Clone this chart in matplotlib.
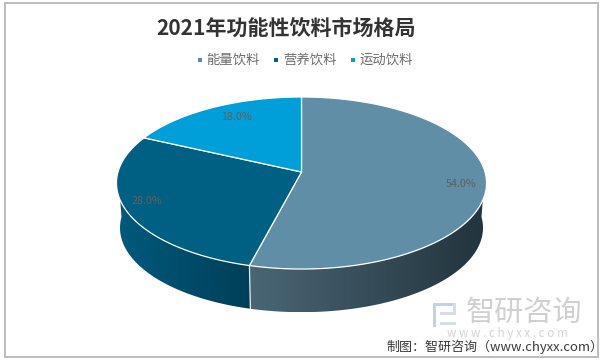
import matplotlib
matplotlib.use('Agg')
import matplotlib.pyplot as plt
from matplotlib.patches import Polygon, Rectangle
import numpy as np

plt.rcParams['font.family'] = ['Noto Sans CJK SC', 'DejaVu Sans']

title = '2021年功能性饮料市场格局'
names = ['能量饮料', '营养饮料', '运动饮料']
shares = [54.0, 28.0, 18.0]
colors = ['#5f8ea6', '#006083', '#009fd9']
side_left = ['#4a6675', '#005a7d', '#006083']
side_right = ['#22343d', '#003f58', '#006083']
source = '制图：智研咨询（www.chyxx.com）'

fig = plt.figure(figsize=(6.02, 3.62), dpi=100)
ax = fig.add_axes([0, 0, 1, 1])
ax.set_xlim(0, 602)
ax.set_ylim(362, 0)
ax.axis('off')


# tilted disc with a little perspective, theta clockwise from 12 o'clock
def project(theta, cy=172.0, a=183.5, b=84.6, c=0.128):
    u = np.sin(theta)
    v = np.cos(theta)
    return 301.5 + a * u / (1 + c * v), cy - b * v / (1 + c * v)


def bottom(theta):
    return project(theta, cy=217.0, a=180.0, b=83.0)


edges = np.cumsum([0] + shares) / 100 * 2 * np.pi

# sides, only the part that faces us
for i in range(2):
    t0 = max(edges[i], np.pi * 0.5)
    t1 = min(edges[i + 1], np.pi * 1.5)
    t = np.linspace(t0, t1, 120)
    xt, yt = project(t)
    xb, yb = bottom(t)
    pts = np.column_stack([np.r_[xt, xb[::-1]], np.r_[yt, yb[::-1]]])
    poly = Polygon(pts, closed=True, fc='none', ec='none')
    ax.add_patch(poly)
    c0 = np.array(matplotlib.colors.to_rgb(side_left[i]))[None, None, :]
    c1 = np.array(matplotlib.colors.to_rgb(side_right[i]))[None, None, :]
    grad = np.linspace(0, 1, 200)[None, :, None]
    img = c0 * (1 - grad) + c1 * grad
    im = ax.imshow(img, extent=[pts[:, 0].min(), pts[:, 0].max(), pts[:, 1].max(), pts[:, 1].min()],
                   aspect='auto', zorder=1)
    im.set_clip_path(poly)
ax.set_xlim(0, 602)
ax.set_ylim(362, 0)

# seam between the two visible sides
sx, sy = project(edges[1])
bx, by = bottom(edges[1])
ax.plot([sx, bx], [sy, by], color='#e8ecee', lw=0.9, zorder=2)

# top faces
for i in range(3):
    t = np.linspace(edges[i], edges[i + 1], 200)
    x, y = project(t)
    pts = np.column_stack([np.r_[301.5, x], np.r_[172.0, y]])
    ax.add_patch(Polygon(pts, closed=True, fc=colors[i], ec='white', lw=0.9,
                         joinstyle='round', zorder=3))

# percent labels
label_pos = [(461, 184), (147, 201), (236, 117)]
for v, (x, y) in zip(shares, label_pos):
    ax.text(x, y, '%.1f%%' % v, color='#606060', fontsize=7.8, ha='center', va='center', zorder=4)

ax.text(286.5, 28, title, color='#333333', fontsize=15.1, fontweight='bold', ha='center', va='center')

# legend
leg_x = [199.5, 276, 352.5]
for name, col, x in zip(names, colors, leg_x):
    ax.add_patch(Rectangle((x - 2, 58), 4, 4, fc=col, ec='none'))
    ax.text(x + 7, 60, name, color='#6b6b6b', fontsize=9.6, ha='left', va='center')

# watermark
logo = '#d5dde8'
ax.add_patch(Rectangle((433, 303), 22, 3, fc='#c3d3e6', ec='none'))
ax.add_patch(Rectangle((433, 303), 3, 24, fc='#c3d3e6', ec='none'))
ax.add_patch(Rectangle((440, 312), 16, 3, fc=logo, ec='none'))
ax.add_patch(Rectangle((440, 322), 16, 3, fc=logo, ec='none'))
ax.add_patch(Rectangle((453, 303), 3, 12, fc=logo, ec='none'))
ax.text(524, 313, '智研咨询', color='#d0d0d0', fontsize=21, ha='center', va='center')
ax.text(507, 333, 'w w w . c h y x x . c o m', color='#d4d4d4', fontsize=8.4, ha='center', va='center')

ax.text(495, 347, source, color='#3a3a3a', fontsize=9.4, ha='center', va='center')

# frame
ax.add_patch(Rectangle((5, 3), 593, 354, fc='none', ec='#bdbdbd', lw=1.4, zorder=6))

fig.savefig('out.png', dpi=100)
